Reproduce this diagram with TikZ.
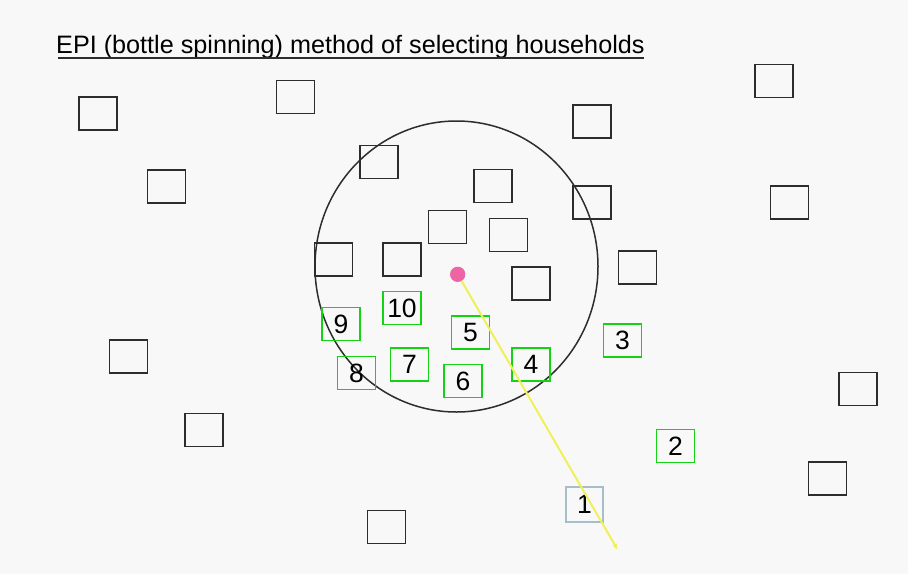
\documentclass[tikz,border=0pt]{standalone}
\usepackage{fontspec}
\setmainfont{Liberation Sans}
\usetikzlibrary{arrows.meta,shapes.geometric}
\definecolor{bgc}{RGB}{248,248,248}
\definecolor{boxc}{RGB}{45,45,45}
\definecolor{greenc}{RGB}{20,210,20}
\definecolor{firstc}{RGB}{165,190,200}
\definecolor{yellowc}{RGB}{240,240,90}
\definecolor{pinkc}{RGB}{238,100,165}
\tikzset{
  house/.style={draw=boxc, line width=1.5pt, minimum width=38pt, minimum height=33pt, inner sep=0pt},
  picked/.style={house, draw=greenc, line width=1.6pt, font=\fontsize{26.5}{28}\selectfont},
  firstpick/.style={picked, draw=firstc, line width=1.2pt, minimum width=37pt, minimum height=35pt},
}
\begin{document}
\begin{tikzpicture}[x=1pt,y=-1pt]
\fill[bgc] (0,0) rectangle (908,574);
\useasboundingbox (0,0) rectangle (908,574);
% title
\node[anchor=base west, inner sep=0pt, font=\fontsize{25.2}{30}\selectfont] (title) at (56,53.8) {EPI (bottle spinning) method of selecting households};
\coordinate (ulA) at ([yshift=-4pt]title.base west);
\coordinate (ulB) at ([yshift=-4pt]title.base east);
\draw[line width=2.2pt, draw=boxc] ([xshift=2pt]ulA) -- ([xshift=-1pt]ulB);
% circle
\node[draw=boxc, line width=1.5pt, ellipse, minimum width=283pt, minimum height=291pt, inner sep=0pt] (ring) at (456.5,266.5) {};
% houses
\node[house] (h1) at (98,113.5) {};
\node[house] (h2) at (295.5,97) {};
\node[house] (h3) at (774,81) {};
\node[house] (h4) at (592,121.3) {};
\node[house] (h5) at (166.5,186.5) {};
\node[house] (h6) at (379,162) {};
\node[house] (h7) at (493,186) {};
\node[house] (h8) at (592,202.5) {};
\node[house] (h9) at (789.5,202.5) {};
\node[house] (h10) at (447.5,227) {};
\node[house] (h11) at (508.5,235) {};
\node[house] (h12) at (333.5,259.5) {};
\node[house] (h13) at (402,259.5) {};
\node[house] (h14) at (637.5,267.5) {};
\node[house] (h15) at (531,283.5) {};
\node[house] (h16) at (128.5,356.5) {};
\node[house] (h17) at (858,389) {};
\node[house] (h18) at (204,430) {};
\node[house] (h19) at (827.5,478.5) {};
\node[house] (h20) at (386.5,527) {};
% selected households
\node[picked] (p10) at (402,308) {10};
\node[picked] (p9) at (341,324) {9};
\node[picked] (p5) at (470.5,332.5) {5};
\node[picked] (p8) at (356.5,373) {8};
\node[picked] (p7) at (409.5,364.5) {7};
\node[picked] (p6) at (463,381) {6};
\node[picked] (p4) at (531,364.5) {4};
\node[picked] (p3) at (622.5,340.5) {3};
\node[picked] (p2) at (675.5,446) {2};
\node[firstpick] (p1) at (584.5,504.5) {1};
% bottle
\node[circle, fill=pinkc, minimum size=15pt, inner sep=0pt] (dot) at (457.7,274.3) {};
\coordinate (tip) at (617.5,549.5);
\draw[yellowc, line width=2pt, -{Stealth[length=6pt,width=5pt]}] (dot.center) -- (tip);
\fill[pinkc] (dot) circle (7.5pt);
\end{tikzpicture}
\end{document}
